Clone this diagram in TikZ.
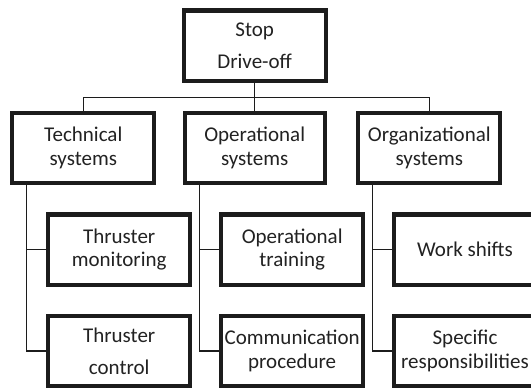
\documentclass[tikz,border=0pt]{standalone}
\usepackage{fontspec}
\setmainfont{Carlito}
\usetikzlibrary{calc}
\definecolor{ink}{HTML}{1C1C1C}
\definecolor{txt}{HTML}{222222}
\begin{document}
\begin{tikzpicture}[x=1pt,y=-1pt,
  box/.style={draw=ink, line width=4.2pt, fill=white, align=center, text=txt,
    minimum width=142pt, minimum height=70.5pt, inner sep=0pt,
    font=\fontsize{21}{23.5}\selectfont},
  link/.style={draw=ink, line width=1.3pt}]
\useasboundingbox (0,0) rectangle (531,389);
\clip (0,0) rectangle (531,389);
% level 1
\node[box] (top) at (254.7,45.8) {Stop\\[8.5pt]Drive-off};
% level 2
\node[box] (tech) at (83.3,148) {Technical\\systems};
\node[box, minimum width=140pt] (op) at (254.7,148) {Operational\\systems};
\node[box] (org) at (429.3,148) {Organizational\\systems};
% level 3
\node[box] (mon) at (119.2,249.7) {Thruster\\monitoring};
\node[box] (ctrl) at (119.2,351) {Thruster\\[8.5pt]control};
\node[box] (train) at (292.2,249.7) {Operational\\training};
\node[box] (comm) at (292.2,351) {Communication\\procedure};
\node[box] (work) at (465,249.7) {Work shifts};
\node[box] (spec) at (465,351) {Specific\\responsibilities};
% bus
\coordinate (bus) at (0,97.7);
\draw[link] (top.south) -- (op.north);
\draw[link] (tech.north) -- (tech.north |- bus) -| (org.north);
% trunks
\coordinate (ta) at ($(tech.south west)+(16,0)$);
\coordinate (tb) at ($(op.south west)+(17,0)$);
\coordinate (tc) at ($(org.south west)+(16,0)$);
\draw[link] (ta) |- (mon.west);
\draw[link] (ta) |- (ctrl.west);
\draw[link] (tb) |- (train.west);
\draw[link] (tb) |- (comm.west);
\draw[link] (tc) |- (work.west);
\draw[link] (tc) |- (spec.west);
\end{tikzpicture}
\end{document}
